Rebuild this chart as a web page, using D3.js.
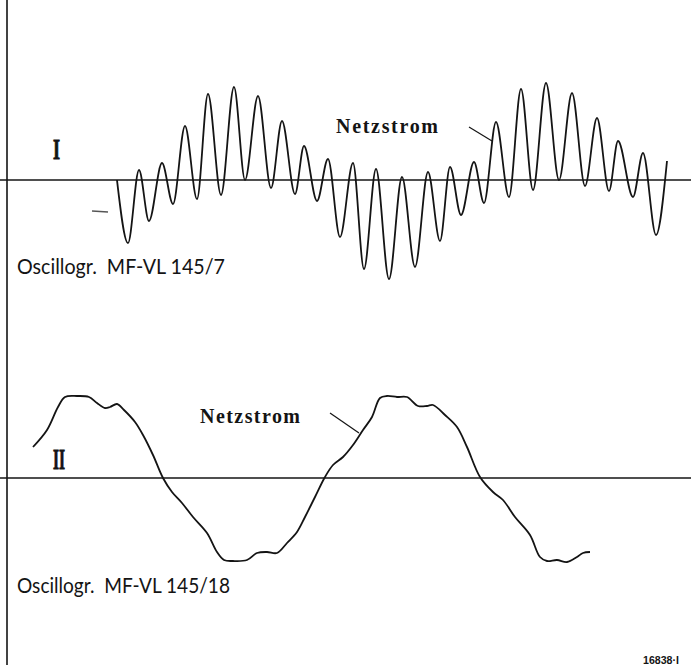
<!DOCTYPE html>
<html>
<head>
<meta charset="utf-8">
<script src="https://cdn.jsdelivr.net/npm/d3@7"></script>
<style>
  body { margin: 0; background: #fff; }
  svg { display: block; }
</style>
</head>
<body>
<svg></svg>
<script>
// sweep position (plate units) and current readings, trace I (beat of two frequencies)
let t1 = [110, 121, 132, 142, 155, 166, 178, 190, 201, 214, 227, 238, 251, 264, 275, 288, 297, 310, 321, 333,
          346, 357, 369, 382, 395, 408, 421, 433, 443, 454, 467, 477, 489, 502, 514, 526, 539, 552, 565, 578,
          590, 602, 611, 626, 636, 649, 660]
let i1 = [0, -63, 10, -41, 17, -24, 54, -19, 86, -15, 93, 0, 84, -8, 59, -14, 34, -21, 21, -57,
          17, -89, 11, -99, 3, -87, 8, -61, 13, -35, 18, -23, 58, -17, 91, -10, 97, 0, 87, -6,
          62, -11, 39, -17, 27, -55, 19]

// trace II (mains current, about 1.5 periods)
let t2 = [26, 40, 51, 58, 70, 82, 90, 98, 103, 110, 117, 128, 136, 146, 156, 165, 175, 186, 200, 210,
          217, 226, 240, 250, 260, 270, 280, 290, 298, 308, 318, 326, 336, 346, 356, 365, 373, 380, 390, 400,
          411, 420, 426, 438, 450, 460, 473, 486, 496, 508, 523, 533, 540, 550, 560, 570, 576, 583]
let i2 = [31, 48, 71, 81, 82, 81, 75, 70, 71, 74, 68, 56, 43, 23, 0, -14, -25, -39, -55, -74,
          -82, -83, -82, -75, -74, -75, -65, -54, -39, -19, 1, 13, 21, 33, 48, 61, 80, 82, 81, 81,
          72, 72, 73, 63, 51, 31, 1, -14, -22, -39, -57, -79, -83, -82, -84, -79, -75, -74]

let labelsI = ['I', 'Netzstrom', 'Oscillogr.  MF-VL 145/7']
let labelsII = ['II', 'Netzstrom', 'Oscillogr.  MF-VL 145/18']
let plateNo = '16838·I'

let width = 691
let height = 668
let ink = '#141414'

let svg = d3.select('svg')
    .attr('width', width)
    .attr('height', height)

svg.append('rect')
    .attr('width', width)
    .attr('height', height)
    .attr('fill', '#fff')

let xScale = d3.scaleLinear()
    .domain([0, 684])
    .range([7, 691])

// each trace gets its own vertical scale, zero on its own base line
let yScaleI = d3.scaleLinear()
    .domain([-100, 100])
    .range([280, 80])

let yScaleII = d3.scaleLinear()
    .domain([-100, 100])
    .range([578, 378])

// left edge of the plate
svg.append('line')
    .attr('x1', 7).attr('x2', 7)
    .attr('y1', 0).attr('y2', 665)
    .attr('stroke', ink)
    .attr('stroke-width', 1.6)

let drawTrace = (ts, vals, yScale, curve, labels, labelPos) => {
    // zero line
    svg.append('line')
        .attr('x1', xScale(-7)).attr('x2', xScale(684))
        .attr('y1', yScale(0)).attr('y2', yScale(0))
        .attr('stroke', ink)
        .attr('stroke-width', 1.6)

    let line = d3.line()
        .x((d) => xScale(d[0]))
        .y((d) => yScale(d[1]))
        .curve(curve)

    svg.append('path')
        .datum(ts.map((t, k) => [t, vals[k]]))
        .attr('d', line)
        .attr('fill', 'none')
        .attr('stroke', ink)
        .attr('stroke-width', 1.8)
        .attr('stroke-linejoin', 'round')

    // roman numeral
    svg.append('text')
        .attr('x', labelPos.num[0])
        .attr('y', labelPos.num[1])
        .attr('font-family', 'Liberation Serif')
        .attr('font-weight', 'bold')
        .attr('font-size', 29)
        .attr('textLength', labelPos.num[2])
        .attr('lengthAdjust', 'spacingAndGlyphs')
        .attr('fill', ink)
        .attr('stroke', ink)
        .attr('stroke-width', 0.9)
        .text(labels[0])

    svg.append('text')
        .attr('x', labelPos.name[0])
        .attr('y', labelPos.name[1])
        .attr('font-family', 'Liberation Serif')
        .attr('font-weight', 'bold')
        .attr('font-size', 20)
        .attr('textLength', labelPos.name[2])
        .attr('lengthAdjust', 'spacing')
        .attr('fill', ink)
        .text(labels[1])

    svg.append('line')
        .attr('x1', xScale(labelPos.lead[0])).attr('y1', yScale(labelPos.lead[1]))
        .attr('x2', xScale(labelPos.lead[2])).attr('y2', yScale(labelPos.lead[3]))
        .attr('stroke', ink)
        .attr('stroke-width', 1.2)

    svg.append('text')
        .attr('x', labelPos.osc[0])
        .attr('y', labelPos.osc[1])
        .attr('font-family', 'Lato')
        .attr('font-size', 21)
        .attr('textLength', labelPos.osc[2])
        .attr('lengthAdjust', 'spacingAndGlyphs')
        .attr('fill', ink)
        .style('white-space', 'pre')
        .text(labels[2])
}

drawTrace(t1, i1, yScaleI, d3.curveMonotoneX, labelsI, {
    num: [53, 159, 7],
    name: [336, 133, 102],
    lead: [462, 53, 485, 39],
    osc: [17, 274, 208]
})

drawTrace(t2, i2, yScaleII, d3.curveCatmullRom.alpha(0.5), labelsII, {
    num: [53, 469, 12],
    name: [200, 423, 100],
    lead: [323, 65, 352, 45],
    osc: [17, 593, 213]
})

// stray stroke on the plate left of trace I
svg.append('line')
    .attr('x1', 92).attr('y1', 211)
    .attr('x2', 108).attr('y2', 212)
    .attr('stroke', '#555')
    .attr('stroke-width', 1.3)

svg.append('text')
    .attr('x', 643)
    .attr('y', 664)
    .attr('font-family', 'Liberation Sans')
    .attr('font-weight', 'bold')
    .attr('font-size', 10)
    .attr('textLength', 36)
    .attr('lengthAdjust', 'spacingAndGlyphs')
    .attr('fill', ink)
    .text(plateNo)
</script>
</body>
</html>
